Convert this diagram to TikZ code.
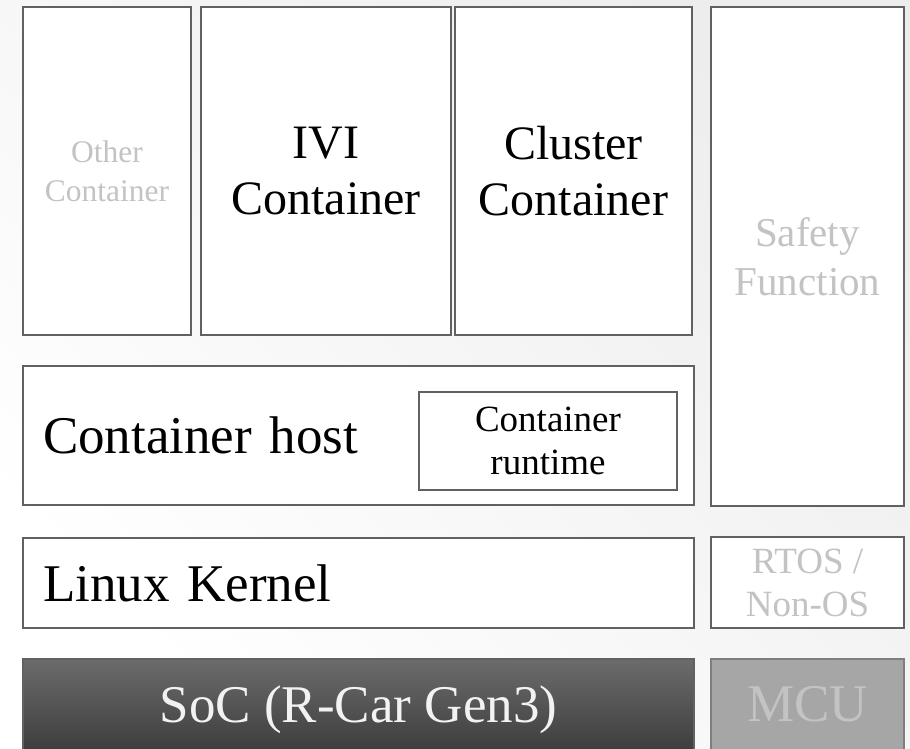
\documentclass[tikz,border=0pt]{standalone}
\usepackage{fontspec}
\setmainfont{Liberation Serif}
\definecolor{edge}{HTML}{616161}
\definecolor{faint}{HTML}{C3C3C3}
\definecolor{socTop}{HTML}{6C6C6C}
\definecolor{socBot}{HTML}{3E3E3E}
\definecolor{mcuFill}{HTML}{A6A6A6}
\definecolor{mcuEdge}{HTML}{7E7E7E}
\definecolor{bgGray}{HTML}{EDEDED}
\begin{document}
\begin{tikzpicture}[x=1pt, y=-1pt,
    main/.style = {draw=edge, line width=2pt, fill=white, inner sep=0pt, align=center},
    big/.style = {font=\fontsize{48}{56}\selectfont},
    huge/.style = {font=\fontsize{53}{60}\selectfont},
    mid/.style = {font=\fontsize{37}{43}\selectfont}]
        \useasboundingbox (0,0) rectangle (910,749);
        \shade[top color=bgGray, bottom color=white, shading angle=-45] (0,0) rectangle (910,749);
        %
        \node[main, text=faint, font=\fontsize{31.5}{39}\selectfont, minimum width=168pt, minimum height=328pt] (other) at (107,171) {Other\\Container};
        \node[main, big, minimum width=250pt, minimum height=328pt] (ivi) at (326,171) {IVI\\Container};
        \node[main, big, minimum width=237pt, minimum height=328pt] (cluster) at (573.5,171) {Cluster\\Container};
        \node[main, text=faint, font=\fontsize{41}{49}\selectfont, minimum width=193pt, minimum height=499pt] (safety) at (807.5,256.5) {Safety\\Function};
        \node[main, huge, align=left, text width=631pt, inner xsep=20pt, minimum height=139pt] (host) at (358.5,435.5) {Container host};
        \node[main, mid, minimum width=258pt, minimum height=98pt] (runtime) at (548,441) {Container\\runtime};
        \node[main, huge, align=left, text width=631pt, inner xsep=20pt, minimum height=90pt] (kernel) at (358.5,583) {Linux Kernel};
        \node[main, mid, text=faint, minimum width=193pt, minimum height=91pt] (rtos) at (807.5,582.5) {RTOS /\\Non-OS};
        \node[main, huge, top color=socTop, bottom color=socBot, text=white!95!black, text depth=0pt, minimum width=671pt, minimum height=91pt] (soc) at (358.5,704) {SoC (R-Car Gen3)};
        \node[main, huge, draw=mcuEdge, fill=mcuFill, text=faint, minimum width=193pt, minimum height=91pt] (mcu) at (807.5,704) {MCU};
      \end{tikzpicture}
\end{document}
